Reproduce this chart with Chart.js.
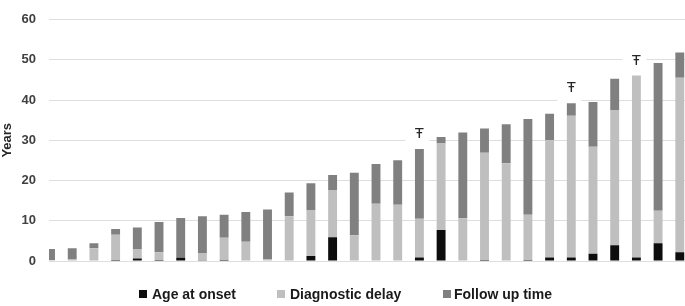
<!DOCTYPE html>
<html>
<head>
<meta charset="utf-8">
<script src="https://cdn.jsdelivr.net/npm/chart.js@4"></script>
<style>
  html, body { margin: 0; padding: 0; background: #ffffff; overflow: hidden; }
  #wrap { position: relative; width: 685px; height: 306px; }
  #c { position: absolute; left: 0; top: 0; }
  .lg { position: absolute; font: bold 14px "Liberation Sans", Arial, sans-serif; color: #1a1a1a; line-height: 16px; top: 286px; white-space: nowrap; }
  .bx { position: absolute; width: 8px; height: 8px; top: 290px; }
</style>
</head>
<body>
<div id="wrap">
  <canvas id="c" width="685" height="306"></canvas>
  <div id="legend"></div>
</div>
<script>
// ---- data ----
const categories = [1, 2, 3, 4, 5, 6, 7, 8, 9, 10, 11, 12, 13, 14, 15, 16, 17, 18, 19, 20, 21, 22, 23, 24, 25, 26, 27, 28, 29, 30];
const seriesNames = ['Age at onset', 'Diagnostic delay', 'Follow up time'];
const ageAtOnset = [0, 0, 0, 0.25, 0.6, 0.25, 0.9, 0.2, 0.25, 0, 0, 0, 1.25, 5.9, 0, 0, 0, 0.85, 7.7, 0, 0.25, 0, 0.25, 0.85, 0.9, 1.8, 3.9, 0.9, 4.4, 2.2];
const diagnosticDelay = [0.25, 0.4, 3.15, 6.25, 2.4, 1.95, 0.1, 1.8, 5.5, 4.8, 0.47, 11.1, 11.45, 11.6, 6.4, 14.2, 13.95, 9.65, 21.5, 10.6, 26.65, 24.3, 11.25, 29.15, 35.2, 26.6, 33.5, 45.2, 8.1, 43.3];
const followUpTime = [2.75, 2.75, 1.25, 1.45, 5.35, 7.5, 9.7, 9.1, 5.75, 7.4, 12.3, 5.9, 6.6, 3.85, 15.5, 9.9, 11.1, 17.3, 1.6, 21.3, 6.0, 9.7, 23.8, 6.6, 3.1, 11.1, 7.9, 0, 36.7, 6.3];
const markedCategories = [18, 25, 28];
const markerSymbol = 'Ŧ';
const yTicks = [0, 10, 20, 30, 40, 50, 60];
const yTitle = 'Years';

const colors = ['#0d0d0d', '#bfbfbf', '#808080'];
const seriesValues = [ageAtOnset, diagnosticDelay, followUpTime];

const datasets = seriesNames.map((name, s) => ({
  label: name,
  data: categories.map((c, i) => ({ x: c, y: seriesValues[s][i] })),
  backgroundColor: colors[s],
  borderWidth: 0,
  categoryPercentage: 1,
  barPercentage: 0.41
}));

const markerPlugin = {
  id: 'markers',
  afterDatasetsDraw(chart) {
    const ctx = chart.ctx;
    const xs = chart.scales.x, ys = chart.scales.y;
    ctx.save();
    markedCategories.forEach(cat => {
      const i = categories.indexOf(cat);
      const total = ageAtOnset[i] + diagnosticDelay[i] + followUpTime[i];
      const px = xs.getPixelForValue(cat);
      const py = ys.getPixelForValue(total) - 15;
      ctx.fillStyle = '#ffffff';
      ctx.fillRect(px - 14, py - 13, 24, 26);
      ctx.fillStyle = '#262626';
      ctx.font = '15px "Liberation Sans", Arial, sans-serif';
      ctx.textAlign = 'center';
      ctx.textBaseline = 'middle';
      ctx.fillText(markerSymbol, px, py);
    });
    ctx.restore();
  }
};

new Chart(document.getElementById('c'), {
  type: 'bar',
  data: { datasets },
  options: {
    responsive: false,
    animation: false,
    devicePixelRatio: 1,
    layout: { padding: { top: 7, bottom: 45, left: 0, right: 0 } },
    plugins: { legend: { display: false }, tooltip: { enabled: false } },
    scales: {
      x: {
        type: 'linear',
        stacked: true,
        offset: false,
        min: 0.93,
        max: 30.24,
        display: false,
        grid: { offset: false }
      },
      y: {
        stacked: true,
        min: 0,
        max: 60,
        afterBuildTicks(scale) { scale.ticks = yTicks.map(v => ({ value: v })); },
        afterFit(scale) { scale.width = 49; },
        grid: { color: '#dedede', lineWidth: 1, drawTicks: false },
        border: { display: false },
        ticks: {
          padding: 13,
          color: '#404040',
          font: { family: '"Liberation Sans", Arial, sans-serif', size: 13, weight: 'bold', lineHeight: 1 }
        },
        title: {
          display: true,
          text: yTitle,
          color: '#262626',
          padding: { top: 0, bottom: 0 },
          font: { family: '"Liberation Sans", Arial, sans-serif', size: 13, weight: 'bold', lineHeight: 1.2 }
        }
      }
    }
  },
  plugins: [markerPlugin]
});

// HTML legend
const legendPos = [[139, 152], [277, 290], [443, 454]];
const lg = document.getElementById('legend');
seriesNames.forEach((name, s) => {
  const b = document.createElement('span');
  b.className = 'bx';
  b.style.left = legendPos[s][0] + 'px';
  b.style.background = colors[s];
  lg.appendChild(b);
  const t = document.createElement('span');
  t.className = 'lg';
  t.style.left = legendPos[s][1] + 'px';
  t.textContent = name;
  lg.appendChild(t);
});
</script>
</body>
</html>
